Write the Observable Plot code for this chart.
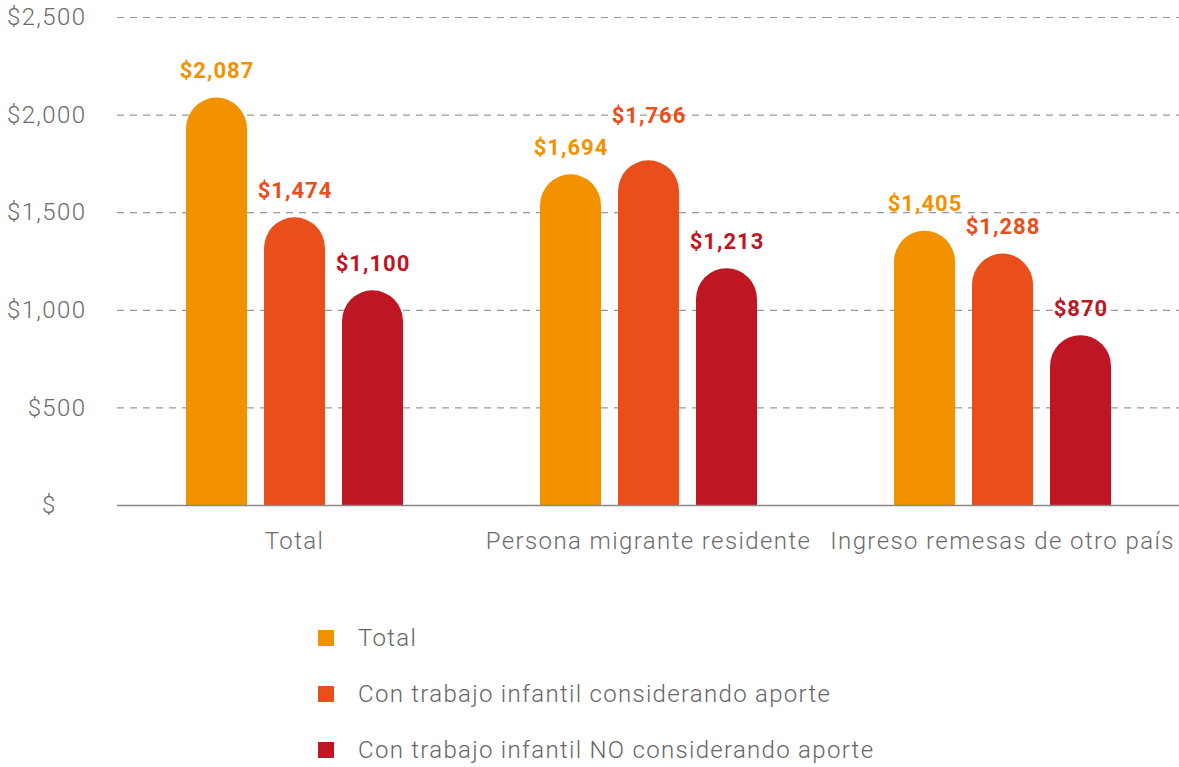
<!DOCTYPE html>
<html>
<head>
<meta charset="utf-8">
<script src="https://cdn.jsdelivr.net/npm/d3@7"></script>
<script src="https://cdn.jsdelivr.net/npm/@observablehq/plot@0.6"></script>
<style>
  body { margin: 0; background: #fff; font-family: Roboto, "DejaVu Sans", sans-serif; }
  #chart svg text { font-weight: 300; letter-spacing: 1.4px; }
  #chart svg g.vlabel text { font-weight: 700; letter-spacing: 1px; }
  .legend { padding-left: 318px; margin-top: 20px; color: #666; font-size: 24px; font-weight: 300; letter-spacing: 1.3px; }
  .legend .row { display: flex; align-items: center; height: 56px; }
  .legend .sw { width: 16px; height: 16px; margin-right: 24px; }
</style>
</head>
<body>
<div id="chart"></div>
<script>
const groups = ["Total", "Persona migrante residente", "Ingreso remesas de otro país"];
const series = ["Total", "Con trabajo infantil considerando aporte", "Con trabajo infantil NO considerando aporte"];
const totalValues = [2087, 1694, 1405];
const aporteValues = [1474, 1766, 1288];
const noAporteValues = [1100, 1213, 870];
const colors = ["#F39200", "#E94E1B", "#BE1622"];
const yTicks = [0, 500, 1000, 1500, 2000, 2500];

const seriesValues = [totalValues, aporteValues, noAporteValues];
const data = groups.flatMap((g, i) => series.map((s, j) => ({group: g, series: s, value: seriesValues[j][i]})));
const fmt = d3.format(",");
const raised = d => d.group === groups[1] && d.series === series[1];

const chart = Plot.plot({
  width: 1179,
  height: 590,
  marginLeft: 116,
  marginRight: 0,
  marginTop: 17,
  marginBottom: 85,
  style: {fontFamily: "Roboto, sans-serif", fontSize: "24px", color: "#6b6b6b", background: "#fff"},
  fx: {domain: groups, padding: 0, label: null, axis: "bottom", tickSize: 0, tickPadding: 26},
  x: {domain: series, axis: null, paddingInner: 0.22, paddingOuter: 0.865},
  y: {domain: [0, 2500], ticks: yTicks, tickSize: 0, tickPadding: 31, label: null,
      tickFormat: d => d === 0 ? "$\u2007\u2007" : "$" + fmt(d)},
  color: {domain: series, range: colors},
  marks: [
    Plot.ruleY(yTicks.filter(d => d > 0), {stroke: "#999", strokeWidth: 1.2, strokeDasharray: "7,6"}),
    Plot.barY(data, {fx: "group", x: "series", y: "value", fill: "series", rx: 31}),
    Plot.barY(data, {fx: "group", x: "series", y1: 0, y2: d => d.value / 2, fill: "series"}),
    Plot.ruleY([0], {stroke: "#888", strokeWidth: 1.5}),
    Plot.text(data.filter(d => !raised(d)), {fx: "group", x: "series", y: "value", text: d => "$" + fmt(d.value),
      fill: "series", dy: -27, fontSize: 22, fontWeight: 700, className: "vlabel"}),
    Plot.text(data.filter(raised), {fx: "group", x: "series", y: "value", text: d => "$" + fmt(d.value),
      fill: "series", dy: -45, fontSize: 22, fontWeight: 700, className: "vlabel"})
  ]
});
document.getElementById("chart").appendChild(chart);

const legend = document.createElement("div");
legend.className = "legend";
series.forEach((s, i) => {
  const row = document.createElement("div");
  row.className = "row";
  const sw = document.createElement("span");
  sw.className = "sw";
  sw.style.background = colors[i];
  const t = document.createElement("span");
  t.textContent = s;
  row.appendChild(sw);
  row.appendChild(t);
  legend.appendChild(row);
});
document.body.appendChild(legend);
</script>
</body>
</html>
